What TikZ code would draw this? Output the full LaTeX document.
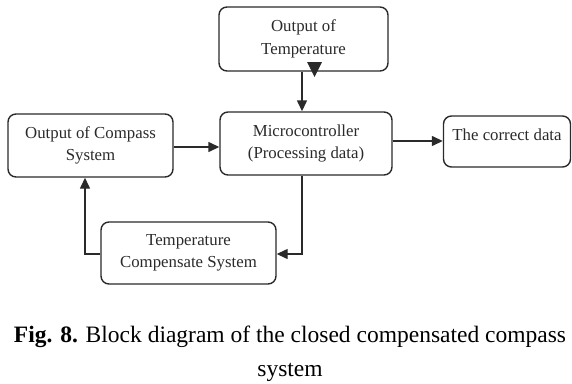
\documentclass[tikz,border=0pt]{standalone}
\usepackage{fontspec}
\setmainfont{Liberation Serif}
\usetikzlibrary{arrows.meta}
\definecolor{ink}{HTML}{2A2A2A}
\tikzset{
  blk/.style={draw=ink, line width=1.4pt, rounded corners=8pt, inner sep=0pt, align=center,
    font=\fontsize{16.8}{22.5}\selectfont, text=ink},
  arr/.style={draw=ink, line width=1.4pt, -{Triangle[width=10pt,length=11pt]}},
  txt/.style={inner sep=0pt, font=\fontsize{16.8}{22.5}\selectfont, text=ink}
}
\begin{document}
\begin{tikzpicture}[x=1pt,y=-1pt]
\useasboundingbox (0,0) rectangle (572,383);
\node[blk, minimum width=169pt, minimum height=64pt] (temp) at (303.5,39) {Output of\\Temperature};
\node[blk, minimum width=172pt, minimum height=63pt] (micro) at (306,143.5) {Microcontroller\\(Processing data)};
\node[blk, minimum width=165pt, minimum height=63pt] (compass) at (90.5,145.5) {Output of Compass\\System};
\node[blk, minimum width=127pt, minimum height=51pt] (correct) at (507,141.5) {};
\node[txt] (correcttxt) at (507,135) {The correct data};
\node[blk, minimum width=175pt, minimum height=62pt] (tcs) at (188.5,253) {Temperature\\Compensate System};
\coordinate (c1) at (302,0);
\coordinate (c2) at (85,0);
\coordinate (r1) at (0,147);
\coordinate (r2) at (0,141);
\coordinate (r3) at (0,254);
\draw[arr] (c1 |- temp.south) -- (c1 |- micro.north);
\fill[ink] (307,62) -- (322,62) -- (314.5,77) -- cycle;
\draw[arr] (compass.east |- r1) -- (micro.west |- r1);
\draw[arr] (micro.east |- r2) -- (correct.west |- r2);
\draw[arr] (c1 |- micro.south) |- (tcs.east |- r3);
\draw[arr] (tcs.west |- r3) -| (c2 |- compass.south);
\node[inner sep=0pt, align=center, font=\fontsize{23.5}{34}\selectfont] (cap) at (290,354)
  {\textbf{Fig. 8.} Block diagram of the closed compensated compass\\system};
\end{tikzpicture}
\end{document}
